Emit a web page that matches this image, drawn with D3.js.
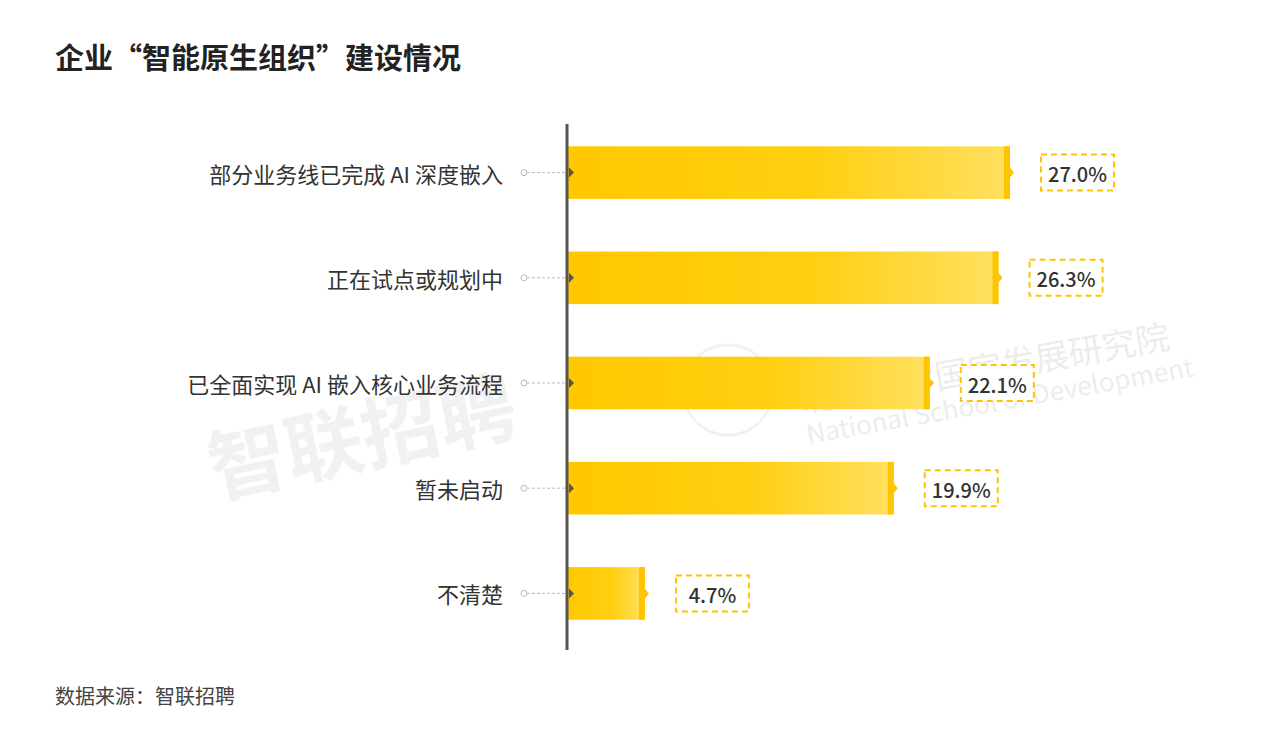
<!DOCTYPE html>
<html><head><meta charset="utf-8">
<script src="https://cdn.jsdelivr.net/npm/d3@7"></script>
<style>body{margin:0;background:#fff;font-family:"Noto Sans CJK SC","Noto Sans",sans-serif;}</style>
</head><body><div id="canvas"></div>
<script>
const categories = ["部分业务线已完成 AI 深度嵌入", "正在试点或规划中", "已全面实现 AI 嵌入核心业务流程", "暂未启动", "不清楚"];
const values = [27.0, 26.3, 22.1, 19.9, 4.7];

const width = 1267, height = 741;
const svg = d3.select("#canvas").append("svg").attr("width", width).attr("height", height);

const defs = svg.append("defs");
const grad = defs.append("linearGradient").attr("id", "barGrad");
grad.append("stop").attr("offset", "0%").attr("stop-color", "#FFC800");
grad.append("stop").attr("offset", "55%").attr("stop-color", "#FFCF10");
grad.append("stop").attr("offset", "100%").attr("stop-color", "#FFE060");

// watermarks
svg.append("text").attr("x", 205).attr("y", 462).attr("transform", "rotate(-12,380,430)")
  .style("font-size", "78px").style("font-weight", "bold").attr("fill", "#000").attr("opacity", 0.05).text("智联招聘");
svg.append("text").attr("x", 795).attr("y", 378).attr("transform", "rotate(-10,1000,350)")
  .style("font-size", "34px").attr("fill", "#000").attr("opacity", 0.07).text("北京大学国家发展研究院");
svg.append("text").attr("x", 800).attr("y", 410).attr("transform", "rotate(-10,1000,380)")
  .style("font-size", "26px").attr("fill", "#000").attr("opacity", 0.07).text("National School of Development");
svg.append("circle").attr("cx", 728).attr("cy", 390).attr("r", 45).attr("fill", "none").attr("stroke", "#000").attr("stroke-width", 3).attr("opacity", 0.05);

svg.append("text").attr("x", 55).attr("y", 69).style("font-size", "29px").style("font-weight", "bold")
  .attr("fill", "#222").text("企业“智能原生组织”建设情况");
svg.append("text").attr("x", 55).attr("y", 704).style("font-size", "20px").attr("fill", "#444").text("数据来源：智联招聘");

const x = d3.scaleLinear().domain([0, 27]).range([568, 1010]);
const y = d3.scaleBand().domain(categories).range([120, 646]).paddingInner(0.5).paddingOuter(0.25);
const bh = y.bandwidth();

const g = svg.append("g");
categories.forEach((c, i) => {
  const cy = y(c) + bh / 2, x1 = x(values[i]);
  g.append("rect").attr("x", x(0)).attr("y", y(c)).attr("width", x1 - x(0)).attr("height", bh).attr("fill", "url(#barGrad)");
  g.append("rect").attr("x", x1 - 6).attr("y", y(c)).attr("width", 6).attr("height", bh).attr("fill", "#FFC400");
  g.append("path").attr("d", `M${x1},${cy - 5}L${x1 + 4},${cy}L${x1},${cy + 5}Z`).attr("fill", "#FFC400");
  // label
  g.append("text").attr("x", 503).attr("y", cy).attr("text-anchor", "end").attr("dominant-baseline", "central")
    .style("font-size", "22px").attr("fill", "#333").text(c);
  g.append("line").attr("x1", 527).attr("x2", 566).attr("y1", cy).attr("y2", cy)
    .attr("stroke", "#bbb").attr("stroke-dasharray", "3,2");
  g.append("circle").attr("cx", 524).attr("cy", cy).attr("r", 3).attr("fill", "#fff").attr("stroke", "#bbb");
  g.append("path").attr("d", `M569,${cy - 5}L574,${cy}L569,${cy + 5}Z`).attr("fill", "#555");
  // value box
  const bx = x1 + 31;
  g.append("rect").attr("x", bx).attr("y", cy - 18).attr("width", 73).attr("height", 36)
    .attr("fill", "#fff").attr("stroke", "#FFC400").attr("stroke-width", 2).attr("stroke-dasharray", "6,4");
  g.append("text").attr("x", bx + 36.5).attr("y", cy + 1).attr("text-anchor", "middle").attr("dominant-baseline", "central")
    .style("font-size", "20px").style("font-weight", "500").attr("fill", "#333").text(values[i].toFixed(1) + "%");
});

svg.append("line").attr("x1", 567).attr("x2", 567).attr("y1", 124).attr("y2", 650).attr("stroke", "#555").attr("stroke-width", 3);
</script></body></html>
